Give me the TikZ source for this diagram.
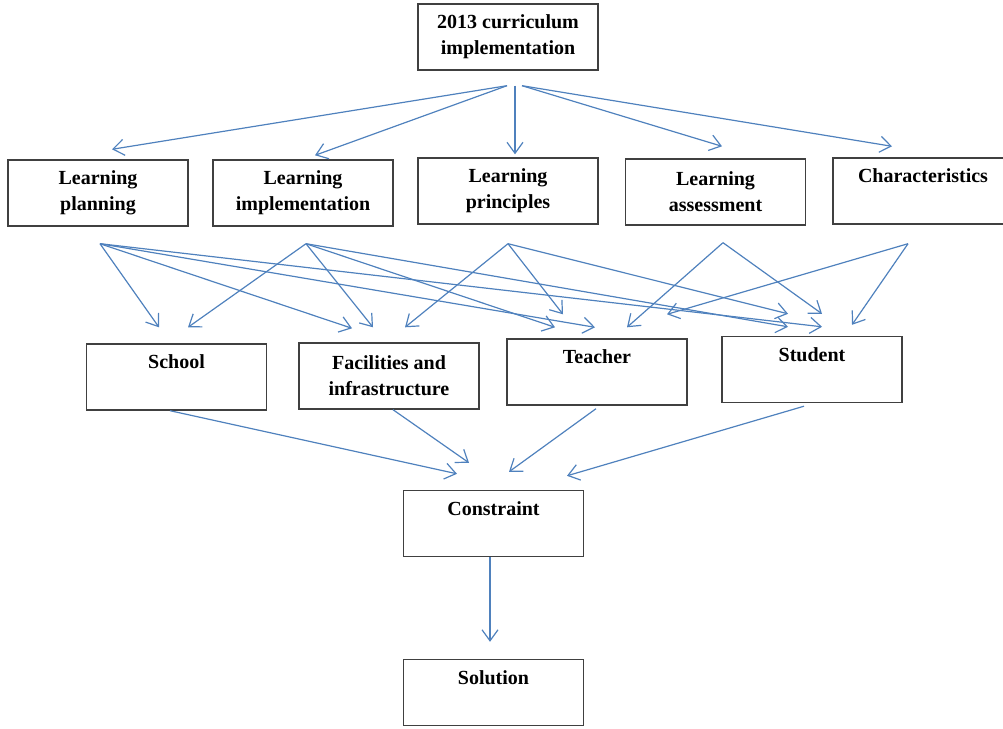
\documentclass[tikz,border=0pt]{standalone}
\usepackage{fontspec}
\setmainfont{Liberation Serif}
\usetikzlibrary{arrows.meta}
\definecolor{flowblue}{RGB}{79,129,189}
\definecolor{boxgray}{RGB}{64,64,64}

\begin{document}
\begin{tikzpicture}[x=1pt,y=-1pt,
  box/.style={draw=boxgray, line width=1.4pt, minimum width=180pt, minimum height=66pt,
    inner sep=0pt, align=center, font=\fontsize{20}{26}\selectfont\bfseries},
  onebox/.style={box, text depth=30pt},
  flow/.style={flowblue, line width=1.2pt, -{Straight Barb[length=11pt,width=16pt]}}]
\useasboundingbox (0,0) rectangle (1003,728);
% Top
\node[box] (top) at (508,37) {2013 curriculum\\implementation};
% Aspects
\node[box] (lp) at (98,193) {Learning\\planning};
\node[box] (li) at (303,193) {Learning\\implementation};
\node[box] (lpr) at (508,191) {Learning\\principles};
\node[box] (la) at (715.5,192) {Learning\\assessment};
\node[onebox] (ch) at (923,191) {Characteristics};
% Components
\node[onebox] (school) at (176.5,377) {School};
\node[box] (fac) at (389,376) {Facilities and\\infrastructure};
\node[onebox] (teacher) at (597,372) {Teacher};
\node[onebox] (student) at (812,369.5) {Student};
% Bottom
\node[onebox] (con) at (493.5,523.5) {Constraint};
\node[onebox] (sol) at (493.5,692.5) {Solution};
% Arrow start points
\coordinate (top-l) at ([xshift=-1pt,yshift=-15pt]top.south);
\coordinate (top-m) at ([xshift=7pt,yshift=-15pt]top.south);
\coordinate (top-r) at ([xshift=14pt,yshift=-15pt]top.south);
\coordinate (lp-out) at ([xshift=2pt,yshift=-17pt]lp.south);
\coordinate (li-out) at ([xshift=3pt,yshift=-17pt]li.south);
\coordinate (lpr-out) at ([yshift=-19pt]lpr.south);
\coordinate (la-out) at ([xshift=7.5pt,yshift=-17pt]la.south);
\coordinate (ch-out) at ([xshift=-15pt,yshift=-19pt]ch.south);
% Top to aspects
\draw[flow] (top-l) -- ([xshift=14pt,yshift=10pt]lp.north);
\draw[flow] (top-l) -- ([xshift=12pt,yshift=4pt]li.north);
\draw[flow] (top-m) -- ([xshift=7pt,yshift=3pt]lpr.north);
\draw[flow] (top-r) -- ([xshift=6.5pt,yshift=12pt]la.north);
\draw[flow] (top-r) -- ([xshift=-31pt,yshift=11pt]ch.north);
% Aspects to components
\draw[flow] (lp-out) -- ([xshift=-17.5pt,yshift=16pt]school.north);
\draw[flow] (lp-out) -- ([xshift=-37pt,yshift=14pt]fac.north);
\draw[flow] (lp-out) -- ([xshift=-2pt,yshift=11pt]teacher.north);
\draw[flow] (lp-out) -- ([xshift=10pt,yshift=9pt]student.north);
\draw[flow] (li-out) -- ([xshift=11.5pt,yshift=16pt]school.north);
\draw[flow] (li-out) -- ([xshift=-16pt,yshift=15pt]fac.north);
\draw[flow] (li-out) -- ([xshift=-42pt,yshift=11pt]teacher.north);
\draw[flow] (li-out) -- ([xshift=-24pt,yshift=9pt]student.north);
\draw[flow] (lpr-out) -- ([xshift=16pt,yshift=15pt]fac.north);
\draw[flow] (lpr-out) -- ([xshift=-34pt,yshift=24pt]teacher.north);
\draw[flow] (lpr-out) -- ([xshift=-24pt,yshift=22pt]student.north);
\draw[flow] (la-out) -- ([xshift=30pt,yshift=11pt]teacher.north);
\draw[flow] (la-out) -- ([xshift=10pt,yshift=22pt]student.north);
\draw[flow] (ch-out) -- ([xshift=70pt,yshift=24pt]teacher.north);
\draw[flow] (ch-out) -- ([xshift=40pt,yshift=11pt]student.north);
% Components to constraint
\draw[flow] ([xshift=-6.5pt]school.south) -- ([xshift=-36.5pt,yshift=16pt]con.north);
\draw[flow] ([xshift=4pt]fac.south) -- ([xshift=-24.5pt,yshift=27pt]con.north);
\draw[flow] ([xshift=-1pt,yshift=-3pt]teacher.south) -- ([xshift=15.5pt,yshift=18pt]con.north);
\draw[flow] ([xshift=-8pt,yshift=-3pt]student.south) -- ([xshift=73.5pt,yshift=14pt]con.north);
% Constraint to solution
\draw[flow] ([xshift=-3.5pt]con.south) -- ([xshift=-3.5pt,yshift=17pt]sol.north);
\end{tikzpicture}
\end{document}
